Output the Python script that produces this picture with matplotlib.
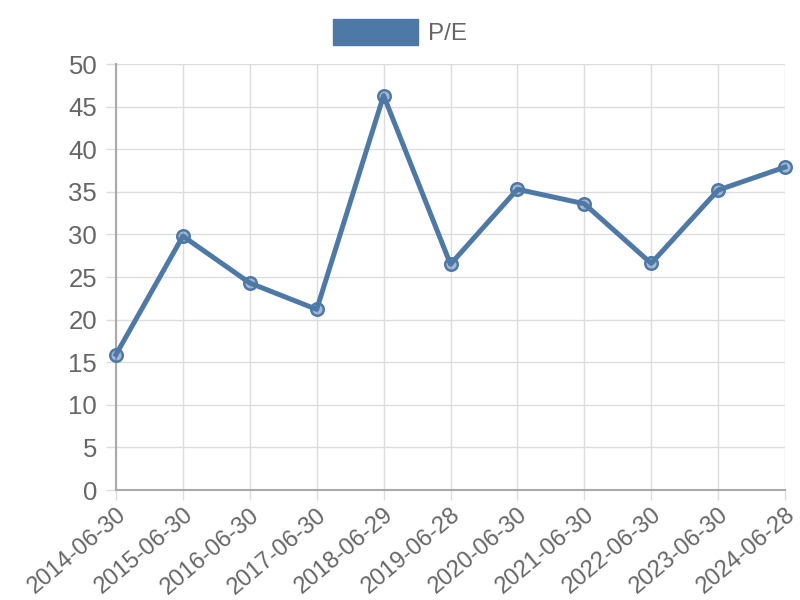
import matplotlib.pyplot as plt
from matplotlib.patches import Patch

plt.rcParams['font.family'] = ['Liberation Sans', 'DejaVu Sans']

dates = ['2014-06-30', '2015-06-30', '2016-06-30', '2017-06-30', '2018-06-29',
         '2019-06-28', '2020-06-30', '2021-06-30', '2022-06-30', '2023-06-30',
         '2024-06-28']
pe = [15.9, 29.8, 24.3, 21.2, 46.3, 26.5, 35.3, 33.6, 26.6, 35.2, 37.9]

blue = '#4e79a7'
grid = '#dddddd'
txt = '#666666'

fig = plt.figure(figsize=(8, 6), dpi=100)
ax = fig.add_axes([0.145, 0.1833, 0.83625, 0.71])

x = list(range(len(dates)))
ax.plot(x, pe, color=blue, lw=3.6, zorder=3, clip_on=False)
ax.plot(x, pe, 'o', ms=9, mfc=(0.306, 0.475, 0.655, 0.5), mec=blue, mew=1.8,
        zorder=4, clip_on=False)

ax.set_xlim(0, len(dates) - 1)
ax.set_ylim(0, 50)
ax.set_yticks(range(0, 51, 5))
ax.set_xticks(x)
ax.set_xticklabels(dates, rotation=40, ha='right', rotation_mode='anchor')
ax.grid(True, color=grid, lw=1)
ax.set_axisbelow(True)
ax.tick_params(colors=grid, labelcolor=txt, length=7, width=1)
ax.tick_params(axis='x', pad=3, labelsize=17)
ax.tick_params(axis='y', pad=6.5, labelsize=18.5)
for s in ['top', 'right']:
    ax.spines[s].set_visible(False)
for s in ['left', 'bottom']:
    ax.spines[s].set_color('#aaaaaa')
    ax.spines[s].set_linewidth(1.5)

fig.legend(handles=[Patch(color=blue, label='P/E')], loc='upper center',
           bbox_to_anchor=(0.5, 1.005), frameon=False, fontsize=17.5,
           handlelength=3.5, handleheight=1.3, labelcolor=txt, handletextpad=0.4)

fig.savefig('out.png', dpi=100)
